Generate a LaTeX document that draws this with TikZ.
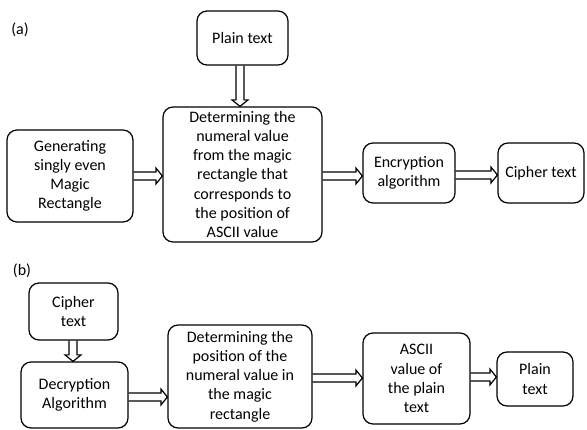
\documentclass[tikz,border=0pt]{standalone}
\usepackage{fontspec}
\setmainfont{Carlito}
\usetikzlibrary{calc}
\tikzset{
  box/.style={draw, line width=1.2pt, rounded corners=10pt, align=center, inner sep=1pt,
    font=\fontsize{16}{19.2}\selectfont},
  harrow/.style={draw, line width=1.2pt, line join=miter},
  lbl/.style={font=\fontsize{16}{19.2}\selectfont, anchor=center}
}
\newcommand{\bx}[6]{% name, x1, y1, x2, y2, text
  \node[box, minimum width={#4pt-#2pt}, minimum height={#5pt-#3pt}] (#1) at ({(#2+#4)/2*1pt},{-(#3+#5)/2*1pt}) {#6};}
\newcommand{\harr}[2]{% hollow block arrow from coordinate #1 to coordinate #2
  \coordinate (hb) at ($(#2)!6.5pt!(#1)$);
  \draw[harrow] ($(#1)!4pt!90:(#2)$) -- ($(hb)!4pt!90:(#2)$) -- ($(hb)!8pt!90:(#2)$) -- (#2)
    -- ($(hb)!8pt!-90:(#2)$) -- ($(hb)!4pt!-90:(#2)$) -- ($(#1)!4pt!-90:(#2)$);}
\begin{document}
\begin{tikzpicture}[x=1pt,y=1pt]
\useasboundingbox (0,0) rectangle (587,-430);
\node[lbl] (la) at (20,-30) {(a)};
\bx{pt}{197}{11}{288}{65}{Plain text}
\bx{mid}{163}{107}{322}{242}{Determining the\\numeral value\\from the magic\\rectangle that\\corresponds to\\the position of\\ASCII value}
\bx{gen}{7}{130}{133}{222}{Generating\\singly even\\Magic\\Rectangle}
\bx{enc}{363}{143}{455}{203}{Encryption\\algorithm}
\bx{ct}{498}{143}{584}{203}{Cipher text}
\coordinate (a1) at (pt.south -| 240,0);
\coordinate (a2) at (mid.north -| 240,0);
\harr{a1}{a2}
\coordinate (b1) at (gen.east |- 0,-176);
\coordinate (b2) at (mid.west |- 0,-176);
\harr{b1}{b2}
\coordinate (c1) at (mid.east |- 0,-176);
\coordinate (c2) at (enc.west |- 0,-176);
\harr{c1}{c2}
\coordinate (d1) at (enc.east |- 0,-175);
\coordinate (d2) at (ct.west |- 0,-175);
\harr{d1}{d2}
\node[lbl] (lb) at (22,-271) {(b)};
\bx{ct2}{29}{283}{118}{340}{Cipher\\text}
\bx{dec}{21}{362}{128}{428}{Decryption\\Algorithm}
\bx{pos}{168}{325}{312}{428}{Determining the\\position of the\\numeral value in\\the magic\\rectangle}
\bx{asc}{363}{333}{470}{424}{ASCII\\value of\\the plain\\text}
\bx{pl}{497}{352}{573}{406}{Plain\\text}
\coordinate (e1) at (ct2.south -| 73,0);
\coordinate (e2) at (dec.north -| 73,0);
\harr{e1}{e2}
\coordinate (f1) at (dec.east |- 0,-397);
\coordinate (f2) at (pos.west |- 0,-397);
\harr{f1}{f2}
\coordinate (g1) at (pos.east |- 0,-378);
\coordinate (g2) at (asc.west |- 0,-378);
\harr{g1}{g2}
\coordinate (h1) at (asc.east |- 0,-377);
\coordinate (h2) at (pl.west |- 0,-377);
\harr{h1}{h2}
\end{tikzpicture}
\end{document}
